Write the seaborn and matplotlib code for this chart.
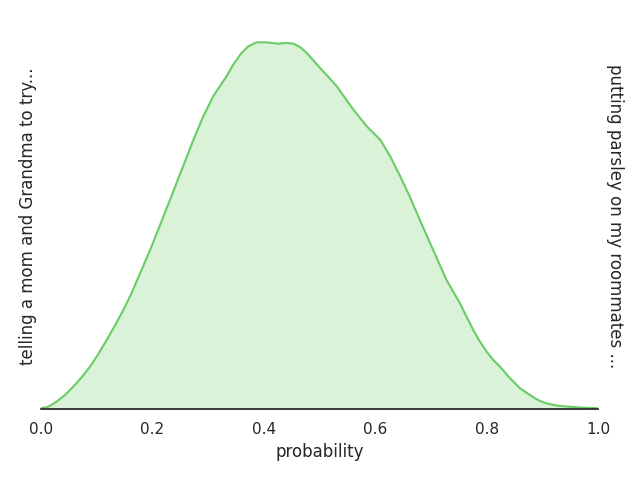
import matplotlib
matplotlib.use("Agg")
import matplotlib.pyplot as plt
import seaborn as sns
import pandas as pd

# Density curve (x = probability, y = density)
prob = [0.000, 0.013, 0.028, 0.043, 0.058, 0.073, 0.088, 0.103, 0.118, 0.133,
        0.148, 0.163, 0.178, 0.196, 0.211, 0.226, 0.238, 0.247, 0.259, 0.266,
        0.273, 0.282, 0.291, 0.300, 0.309, 0.321, 0.333, 0.345, 0.360, 0.372,
        0.387, 0.405, 0.426, 0.441, 0.453, 0.465, 0.477, 0.489, 0.501, 0.516,
        0.531, 0.546, 0.561, 0.573, 0.585, 0.597, 0.609, 0.618, 0.627, 0.636,
        0.645, 0.662, 0.680, 0.692, 0.704, 0.716, 0.728, 0.740, 0.752, 0.764,
        0.776, 0.788, 0.800, 0.812, 0.824, 0.842, 0.860, 0.869, 0.878, 0.887,
        0.896, 0.908, 0.920, 0.932, 0.950, 0.973, 1.000]
density = [0.005, 0.015, 0.049, 0.093, 0.149, 0.211, 0.282, 0.367, 0.460, 0.558,
           0.660, 0.775, 0.905, 1.060, 1.200, 1.340, 1.453, 1.540, 1.653, 1.720,
           1.787, 1.867, 1.947, 2.013, 2.082, 2.149, 2.215, 2.293, 2.371, 2.415,
           2.442, 2.442, 2.433, 2.438, 2.433, 2.411, 2.371, 2.322, 2.271, 2.211,
           2.149, 2.071, 1.993, 1.938, 1.882, 1.838, 1.793, 1.738, 1.682, 1.615,
           1.549, 1.415, 1.260, 1.160, 1.060, 0.960, 0.860, 0.782, 0.705, 0.615,
           0.527, 0.449, 0.382, 0.327, 0.282, 0.205, 0.138, 0.115, 0.093, 0.071,
           0.053, 0.038, 0.027, 0.020, 0.015, 0.009, 0.005]

left_label = "telling a mom and Grandma to try..."
right_label = "putting parsley on my roommates ..."
x_label = "probability"
x_ticks = [0.0, 0.2, 0.4, 0.6, 0.8, 1.0]

df = pd.DataFrame({"probability": prob, "density": density})

sns.set_theme(style="white")
color = sns.color_palette("muted")[2]

fig = plt.figure(figsize=(6.4, 4.8), dpi=100)
ax = fig.add_axes([41 / 640, 1 - 409 / 480, 557 / 640, 385 / 480])

sns.lineplot(data=df, x="probability", y="density", color=color, lw=1.5, ax=ax,
             solid_joinstyle="round", solid_capstyle="round")
ax.fill_between(df["probability"], df["density"], 0, color=color, alpha=0.25, lw=0)

ax.set_xlim(0, 1)
ax.set_ylim(0, max(density) * 1.05)
ax.set_xticks(x_ticks)
ax.set_xticklabels([f"{t:.1f}" for t in x_ticks])
ax.set_yticks([])
ax.set_xlabel(x_label)
ax.set_ylabel(left_label)
ax.yaxis.set_label_coords(-0.0066, 0.5)
ax.text(1.0135, 0.5, right_label, rotation=270, ha="left", va="center",
        transform=ax.transAxes, fontsize=12, color=".15")

for s in ["left", "right", "top"]:
    ax.spines[s].set_visible(False)
ax.spines["bottom"].set_color(".15")
ax.spines["bottom"].set_linewidth(1.25)

fig.savefig("out.png", dpi=100)
